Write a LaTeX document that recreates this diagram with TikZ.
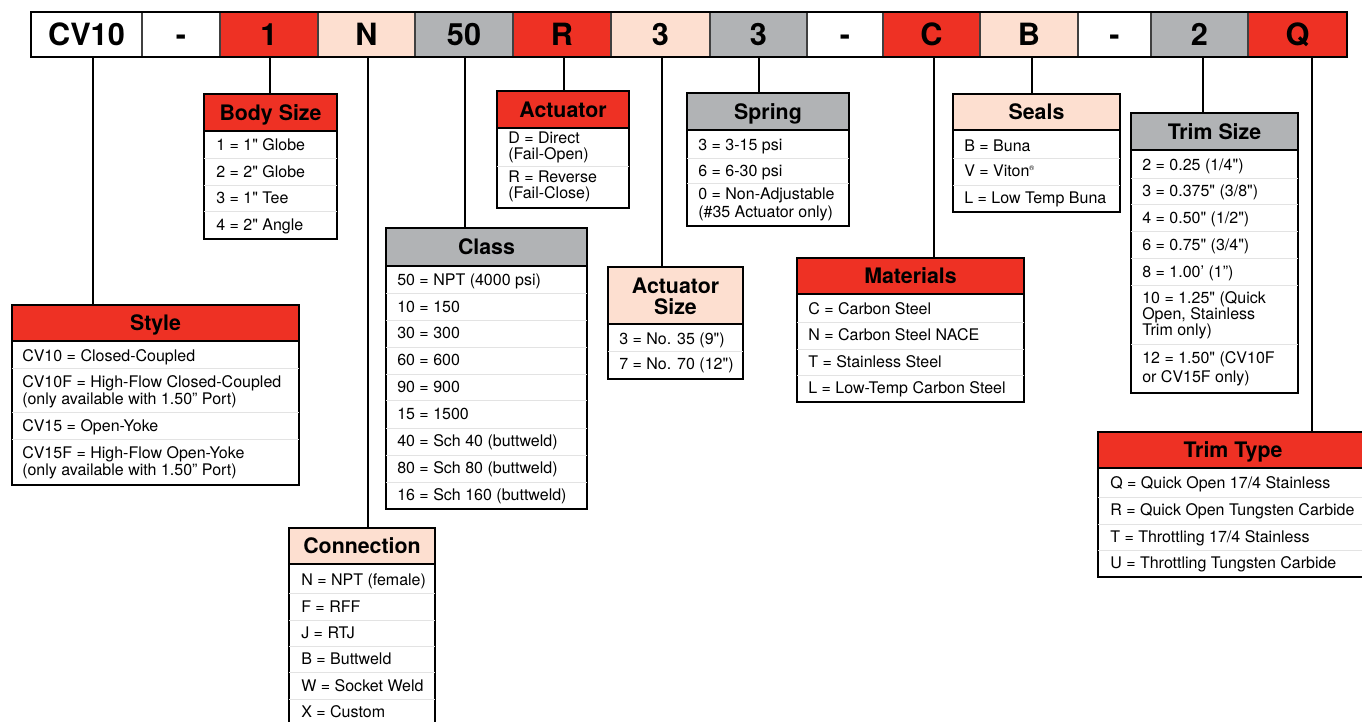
\documentclass[tikz,border=0pt]{standalone}
\usepackage{fontspec}
\setmainfont{TeX Gyre Heros}[Ligatures=TeXOff]
\usetikzlibrary{fit}
\definecolor{cred}{HTML}{EE3124}
\definecolor{cpeach}{HTML}{FDDFD0}
\definecolor{cgrey}{HTML}{B1B3B5}
\tikzset{
  cell/.style={draw=black!75, line width=0.9pt, inner sep=0pt},
  bartxt/.style={font=\fontsize{23}{23}\selectfont\bfseries, text height=16.5pt, text depth=0pt, inner sep=0pt},
  box/.style={draw=black, line width=2.2pt, fill=white, inner sep=0pt},
  hdr/.style={draw=black, line width=2.2pt, inner sep=0pt},
  ttl/.style={font=\fontsize{16}{16}\selectfont\bfseries, text height=11.5pt, text depth=0pt, inner sep=0pt},
  rowt/.style={font=\fontsize{12}{12}\selectfont, anchor=west, text height=8.6pt, text depth=0pt, inner sep=0pt},
  sepl/.style={draw=black!11, line width=0.6pt},
  conn/.style={draw=black, line width=1.9pt},
}
\newcommand\rt[4]{\node[rowt] (#1) at (#2,#3) {#4};}
\newcommand\barcell[5]{%
  \node[cell, fill=#4, fit={(#2,12) (#3,57)}] (#1) {};
  \node[bartxt] (#1t) at (#1.center) {#5};
}
\newcommand\legbox[8]{%
  \node[box, fit={(#2,#3) (#4,#5)}] (#1) {};
  \node[hdr, fill=#7, fit={(#2,#3) (#4,#6)}] (#1h) {};
  \node[ttl] (#1t) at ({(#2+#4)/2},{(#3+#6)/2}) {#8};
}
\newcommand\sepline[3]{\draw[sepl] (#1,#3) -- (#2,#3);}
\begin{document}
\begin{tikzpicture}[x=0.75pt,y=-0.75pt]
\useasboundingbox (0,0) rectangle (1362,721);
\fill[white] (0,0) rectangle (1362,721);

% ---------- code bar ----------
\barcell{cv10}{31}{142}{white}{CV10}
\barcell{d1}{142}{220}{white}{-}
\barcell{c1}{220}{318}{cred}{1}
\barcell{cN}{318}{415}{cpeach}{N}
\barcell{c50}{415}{513}{cgrey}{50}
\barcell{cR}{513}{611}{cred}{R}
\barcell{c3a}{611}{710}{cpeach}{3}
\barcell{c3b}{710}{807}{cgrey}{3}
\barcell{d2}{807}{883}{white}{-}
\barcell{cC}{883}{980}{cred}{C}
\barcell{cB}{980}{1078}{cpeach}{B}
\barcell{d3}{1078}{1151}{white}{-}
\barcell{c2}{1151}{1248}{cgrey}{2}
\barcell{cQ}{1248}{1347}{cred}{Q}
\draw[line width=2.2pt] (31,12) rectangle (1347,57);

% ---------- Style ----------
\legbox{style}{12}{305}{299}{485}{341}{cred}{Style}
\sepline{12}{299}{368}\sepline{12}{299}{412}\sepline{12}{299}{439}
\rt{st1}{22}{356}{CV10 = Closed-Coupled}
\rt{st2}{22}{382}{CV10F = High-Flow Closed-Coupled}
\rt{st3}{22}{399}{(only available with 1.50” Port)}
\rt{st4}{22}{426}{CV15 = Open-Yoke}
\rt{st5}{22}{453}{CV15F = High-Flow Open-Yoke}
\rt{st6}{22}{470}{(only available with 1.50” Port)}

% ---------- Body Size ----------
\legbox{body}{204}{94}{337}{239}{131}{cred}{Body Size}
\sepline{204}{337}{158}\sepline{204}{337}{185}\sepline{204}{337}{211}
\rt{bs1}{216}{145}{1 = 1" Globe}
\rt{bs2}{216}{172}{2 = 2" Globe}
\rt{bs3}{216}{198}{3 = 1" Tee}
\rt{bs4}{216}{225}{4 = 2" Angle}

% ---------- Connection ----------
\legbox{conx}{289}{528}{435}{745}{564}{cpeach}{Connection}
\sepline{289}{435}{593}\sepline{289}{435}{620}\sepline{289}{435}{646}\sepline{289}{435}{672}\sepline{289}{435}{699}
\rt{cn1}{301}{580}{N = NPT (female)}
\rt{cn2}{301}{607}{F = RFF}
\rt{cn3}{301}{633}{J = RTJ}
\rt{cn4}{301}{659}{B = Buttweld}
\rt{cn5}{301}{686}{W = Socket Weld}
\rt{cn6}{301}{712}{X = Custom}

% ---------- Class ----------
\legbox{class}{386}{228}{587}{509}{266}{cgrey}{Class}
\foreach \s in {293,320,347,374,400,428,455,482}{\sepline{386}{587}{\s}}
\rt{cl1}{397}{280}{50 = NPT (4000 psi)}
\rt{cl2}{397}{307}{10 = 150}
\rt{cl3}{397}{333}{30 = 300}
\rt{cl4}{397}{360}{60 = 600}
\rt{cl5}{397}{387}{90 = 900}
\rt{cl6}{397}{414}{15 = 1500}
\rt{cl7}{397}{441}{40 = Sch 40 (buttweld)}
\rt{cl8}{397}{468}{80 = Sch 80 (buttweld)}
\rt{cl9}{397}{495}{16 = Sch 160 (buttweld)}

% ---------- Actuator ----------
\legbox{act}{497}{91}{629}{208}{128}{cred}{Actuator}
\sepline{497}{629}{166}
\rt{ac1}{508}{138}{D = Direct}
\rt{ac2}{508}{154}{(Fail-Open)}
\rt{ac3}{508}{177}{R = Reverse}
\rt{ac4}{508}{193}{(Fail-Close)}

% ---------- Actuator Size ----------
\node[box, fit={(608,267) (743,379)}] (asz) {};
\node[hdr, fill=cpeach, fit={(608,267) (743,324)}] (aszh) {};
\node[ttl] (aszt1) at (675.5,286) {Actuator};
\node[ttl] (aszt2) at (675.5,307) {Size};
\sepline{608}{743}{351}
\rt{as1}{619}{339}{3 = No. 35 (9")}
\rt{as2}{619}{364}{7 = No. 70 (12")}

% ---------- Spring ----------
\legbox{spr}{687}{93}{849}{226}{130}{cgrey}{Spring}
\sepline{687}{849}{158}\sepline{687}{849}{183}
\rt{sp1}{698}{145}{3 = 3-15 psi}
\rt{sp2}{698}{171}{6 = 6-30 psi}
\rt{sp3}{698}{194}{0 = Non-Adjustable}
\rt{sp4}{698}{212}{(\#35 Actuator only)}

% ---------- Materials ----------
\legbox{mat}{797}{258}{1024}{402}{294}{cred}{Materials}
\sepline{797}{1024}{322}\sepline{797}{1024}{349}\sepline{797}{1024}{375}
\rt{ma1}{808}{309}{C = Carbon Steel}
\rt{ma2}{808}{335}{N = Carbon Steel NACE}
\rt{ma3}{808}{362}{T = Stainless Steel}
\rt{ma4}{808}{388}{L = Low-Temp Carbon Steel}

% ---------- Seals ----------
\legbox{seal}{953}{94}{1120}{212}{130}{cpeach}{Seals}
\sepline{953}{1120}{158}\sepline{953}{1120}{185}
\rt{se1}{964}{146}{B = Buna}
\rt{se2}{964}{171}{V = Viton\textsuperscript{\tiny\textregistered}}
\rt{se3}{964}{198}{L = Low Temp Buna}

% ---------- Trim Size ----------
\legbox{tsz}{1131}{113}{1298}{393}{150}{cgrey}{Trim Size}
\foreach \s in {178,204,231,258,285,344}{\sepline{1131}{1298}{\s}}
\rt{ts1}{1142}{165}{2 = 0.25 (1/4")}
\rt{ts2}{1142}{191}{3 = 0.375" (3/8")}
\rt{ts3}{1142}{218}{4 = 0.50" (1/2")}
\rt{ts4}{1142}{245}{6 = 0.75" (3/4")}
\rt{ts5}{1142}{272}{8 = 1.00’ (1”)}
\rt{ts6}{1142}{298}{10 = 1.25" (Quick}
\rt{ts7}{1142}{314}{Open, Stainless}
\rt{ts8}{1142}{330}{Trim only)}
\rt{ts9}{1142}{358}{12 = 1.50" (CV10F}
\rt{ts10}{1142}{377}{or CV15F only)}

% ---------- Trim Type ----------
\legbox{ttp}{1098}{432}{1368}{577}{468}{cred}{Trim Type}
\sepline{1098}{1368}{497}\sepline{1098}{1368}{524}\sepline{1098}{1368}{550}
\rt{tt1}{1110}{483}{Q = Quick Open 17/4 Stainless}
\rt{tt2}{1110}{510}{R = Quick Open Tungsten Carbide}
\rt{tt3}{1110}{537}{T = Throttling 17/4 Stainless}
\rt{tt4}{1110}{563}{U = Throttling Tungsten Carbide}

% ---------- connectors ----------
\coordinate (k1) at (93,0);
\coordinate (k2) at (270,0);
\coordinate (k3) at (368,0);
\coordinate (k4) at (465,0);
\coordinate (k5) at (564,0);
\coordinate (k6) at (662,0);
\coordinate (k7) at (759,0);
\coordinate (k8) at (934,0);
\coordinate (k9) at (1032,0);
\coordinate (k10) at (1203,0);
\coordinate (k11) at (1312,0);
\draw[conn] (k1 |- cv10.south) -- (k1 |- styleh.north);
\draw[conn] (k2 |- c1.south) -- (k2 |- bodyh.north);
\draw[conn] (k3 |- cN.south) -- (k3 |- conxh.north);
\draw[conn] (k4 |- c50.south) -- (k4 |- classh.north);
\draw[conn] (k5 |- cR.south) -- (k5 |- acth.north);
\draw[conn] (k6 |- c3a.south) -- (k6 |- aszh.north);
\draw[conn] (k7 |- c3b.south) -- (k7 |- sprh.north);
\draw[conn] (k8 |- cC.south) -- (k8 |- math.north);
\draw[conn] (k9 |- cB.south) -- (k9 |- sealh.north);
\draw[conn] (k10 |- c2.south) -- (k10 |- tszh.north);
\draw[conn] (k11 |- cQ.south) -- (k11 |- ttph.north);
\end{tikzpicture}
\end{document}
